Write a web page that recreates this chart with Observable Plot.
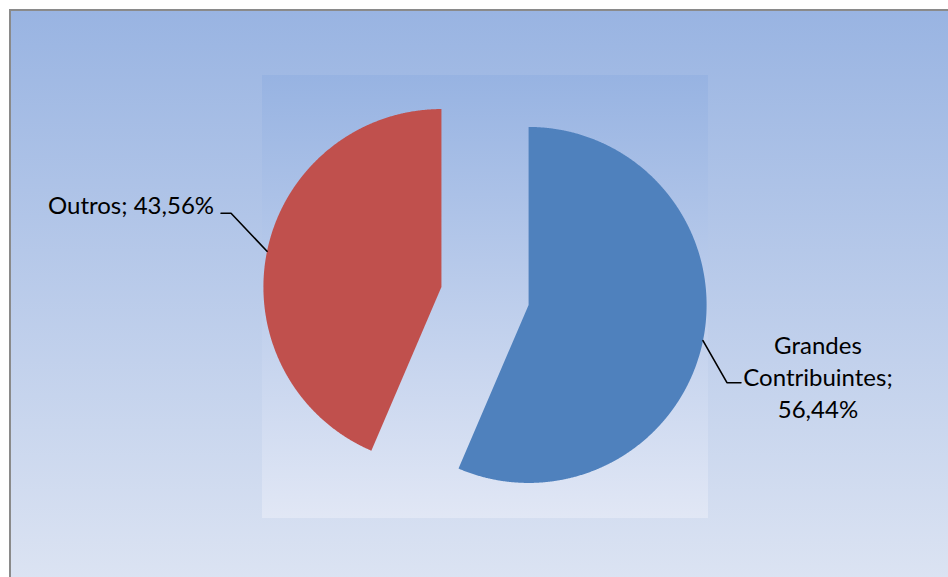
<!DOCTYPE html>
<html><head><meta charset="utf-8">
<script src="https://cdn.jsdelivr.net/npm/d3@7"></script>
<script src="https://cdn.jsdelivr.net/npm/@observablehq/plot@0.6"></script>
<style>
html,body{margin:0;padding:0;background:#fff}
body{width:948px;height:577px;overflow:hidden;position:relative;font-family:Lato,"Open Sans",sans-serif}
#chartArea{position:absolute;left:9px;top:9px;width:960px;height:590px;border-left:2px solid #8a8a8a;border-top:2px solid #8a8a8a;background:linear-gradient(#99b4e2,#dee5f3)}
#plotArea{position:absolute;left:262px;top:75px;width:446px;height:443px;background:linear-gradient(#97b3e2,#e1e7f5)}
#chart{position:absolute;left:0;top:0}
</style></head><body>
<div id="chartArea"></div><div id="plotArea"></div><div id="chart"></div>
<script>
const categories = ["Grandes Contribuintes", "Outros"];
const shares = [56.44, 43.56];
const labels = ["Grandes\nContribuintes;\n56,44%", "Outros; 43,56%"];
const colors = ["#4f81bd", "#c0504d"];

const data = categories.map((c, i) => ({cat: c, value: shares[i], label: labels[i]}));

// layout (pixels)
const R = 178, CX = 484.5, CY = 295.5, EXPLODE = 0.25;

const arcs = d3.pie().sort(null).value(d => d.value)(data);
const slicePts = [];
const mids = [];
arcs.forEach(p => {
  const mid = (p.startAngle + p.endAngle) / 2;
  const ox = EXPLODE * Math.sin(mid), oy = EXPLODE * Math.cos(mid);
  slicePts.push({cat: p.data.cat, x: ox, y: oy});
  const n = Math.ceil((p.endAngle - p.startAngle) / (Math.PI / 720));
  for (let i = 0; i <= n; i++) {
    const a = p.startAngle + (p.endAngle - p.startAngle) * i / n;
    slicePts.push({cat: p.data.cat, x: ox + Math.sin(a), y: oy + Math.cos(a)});
  }
  mids.push({cat: p.data.cat, label: p.data.label, x: ox + Math.sin(mid), y: oy + Math.cos(mid)});
});

// leader line elbows (pixel offsets from slice midpoint on the arc)
const leaderOff = {
  "Grandes Contribuintes": [[24, 42], [38, 42]],
  "Outros": [[-36, -38], [-46, -38]]
};
const leaderPts = [];
mids.forEach(m => {
  leaderPts.push({cat: m.cat, x: m.x, y: m.y});
  leaderOff[m.cat].forEach(([dx, dy]) => leaderPts.push({cat: m.cat, x: m.x + dx / R, y: m.y - dy / R}));
});

const chart = Plot.plot({
  width: 948, height: 577, margin: 0,
  style: {background: "transparent", overflow: "visible", fontFamily: "Lato, 'Open Sans', sans-serif"},
  x: {domain: [-1, 1], range: [CX - R, CX + R], axis: null},
  y: {domain: [-1, 1], range: [CY + R, CY - R], axis: null},
  color: {domain: categories, range: colors},
  marks: [
    ...categories.map((c, i) => Plot.line(slicePts.filter(d => d.cat === c), {x: "x", y: "y", fill: colors[i], stroke: "none", curve: "linear-closed"})),
    Plot.line(leaderPts, {x: "x", y: "y", z: "cat", stroke: "#000", strokeWidth: 1.6}),
    Plot.text(mids.filter(d => d.cat === "Outros"), {x: "x", y: "y", text: "label", dx: -53, dy: -45, textAnchor: "end", lineAnchor: "middle", fontSize: 24, fill: "#000"}),
    Plot.text(mids.filter(d => d.cat === "Grandes Contribuintes"), {x: "x", y: "y", text: "label", dx: 115, dy: 35, textAnchor: "middle", lineAnchor: "middle", lineHeight: 1.333, fontSize: 24, fill: "#000"})
  ]
});
document.getElementById("chart").appendChild(chart);
</script>
</body></html>
